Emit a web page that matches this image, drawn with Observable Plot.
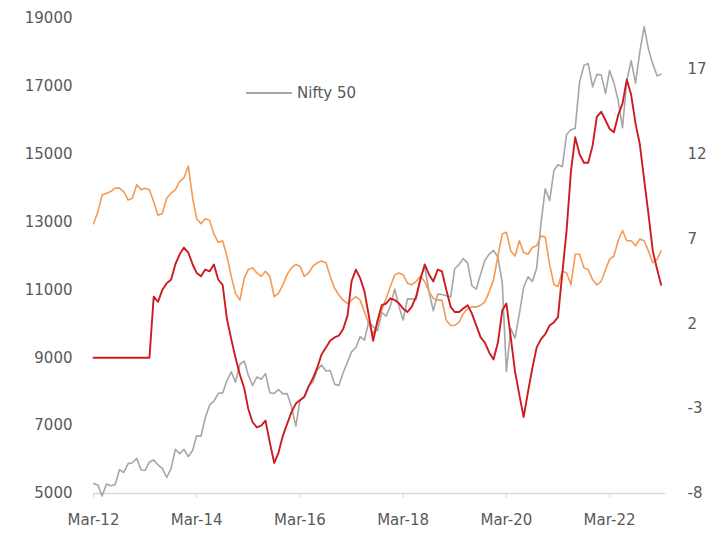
<!DOCTYPE html>
<html><head><meta charset="utf-8">
<script src="https://cdn.jsdelivr.net/npm/d3@7"></script>
<script src="https://cdn.jsdelivr.net/npm/@observablehq/plot@0.6"></script>
<style>
body{margin:0;background:#fff;font-family:"DejaVu Sans",sans-serif}
#wrap{position:relative;width:716px;height:534px}
#legend{position:absolute;left:246px;top:84px;display:flex;align-items:center;font:15px "DejaVu Sans",sans-serif;color:#595959}
#legend .sw{width:46px;height:0;border-top:2px solid #a6a6a6;margin-right:5px}
</style>
</head><body><div id="wrap"><div id="legend"><span class="sw"></span><span>Nifty 50</span></div></div>
<script>
// Monthly series, Mar-12 .. Mar-23
const firstMonth = "2012-03-01";
const nifty50 = [5296,5248,4924,5279,5229,5259,5703,5620,5880,5905,
6035,5693,5683,5930,5986,5842,5742,5472,5735,6299,6176,6304,
6090,6277,6704,6696,7230,7611,7721,7954,7965,8322,8588,8283,
8809,8902,8491,8182,8434,8369,8533,7971,7949,8066,7935,7946,
7564,6987,7738,7850,8160,8288,8639,8786,8611,8626,8224,8186,
8561,8880,9174,9304,9621,9521,10077,9918,9789,10335,10227,10531,
11028,10493,10114,10739,10736,10714,11357,11681,10930,10387,10877,10863,
10831,10793,11624,11748,11923,11789,11118,11023,11474,11877,12056,12168,
11962,11202,8598,9860,9580,10302,11073,11388,11248,11642,12969,13982,
13635,14529,14691,14631,15583,15722,15763,17132,17618,17672,16983,17354,
17340,16794,17465,17103,16585,15780,17158,17759,17094,18012,18758,18105,
17662,17304,17360];
const orangeSeries = [7.9,8.6,9.6,9.7,9.8,10.0,10.0,9.8,9.3,9.4,
10.2,9.9,10.0,9.9,9.2,8.4,8.5,9.4,9.7,9.9,
10.4,10.6,11.3,9.4,8.2,7.9,8.2,8.1,7.3,6.8,
6.9,6.0,4.8,3.8,3.4,4.7,5.2,5.3,5.0,4.8,
5.1,4.8,3.6,3.8,4.3,4.9,5.3,5.5,5.4,4.8,
5.0,5.4,5.6,5.7,5.6,4.8,4.1,3.7,3.4,3.2,
3.4,3.6,3.4,2.7,2.0,1.4,2.0,2.8,3.5,4.2,
4.9,5.0,4.9,4.4,4.3,4.5,4.8,4.5,3.9,3.5,
3.4,3.4,2.2,1.9,1.9,2.1,2.6,2.9,3.0,3.0,
3.1,3.3,3.9,4.6,6.0,7.3,7.4,6.3,6.0,6.9,
6.2,6.1,6.5,6.6,7.2,7.1,5.5,4.3,4.2,5.1,
5.0,4.3,6.1,6.1,5.3,5.2,4.6,4.3,4.5,5.2,
5.8,6.0,6.9,7.5,6.9,6.9,6.6,7.0,6.9,6.3,
5.6,5.8,6.3];
const redSeries = [0,0,0,0,0,0,0,0,0,0,0,0,0,0,
3.6,3.3,4.0,4.4,4.6,5.5,6.1,6.5,6.2,5.5,5.0,4.8,5.2,5.1,5.5,4.6,
4.3,2.3,1.1,0.0,-1.0,-1.8,-3.0,-3.8,-4.1,-4.0,
-3.7,-5.0,-6.2,-5.6,-4.6,-3.9,-3.2,-2.7,-2.5,-2.3,
-1.7,-1.2,-0.6,0.2,0.6,1.0,1.2,1.3,1.7,2.5,
4.5,5.2,4.7,3.9,2.5,1.0,2.2,3.1,3.2,3.5,
3.4,3.2,2.9,2.7,3.0,3.6,4.6,5.5,4.9,4.5,
5.2,5.1,4.0,3.0,2.7,2.7,2.9,3.1,2.6,1.9,
1.2,0.9,0.3,-0.1,0.9,2.8,3.2,1.2,-0.8,-2.2,
-3.5,-2.0,-0.6,0.6,1.1,1.4,1.9,2.1,2.4,5.0,
7.5,11.0,13.0,12.0,11.5,11.5,12.5,14.2,14.5,14.0,
13.5,13.3,14.3,15.0,16.4,15.5,13.8,12.6,10.5,8.5,
6.3,5.2,4.3];
const leftTicks = [5000,7000,9000,11000,13000,15000,17000,19000];
const rightTicks = [-8,-3,2,7,12,17];
const xTickDates = ["2012-03-01","2014-03-01","2016-03-01","2018-03-01","2020-03-01","2022-03-01"];
const leftDomain = [5000,19000];
const rightDomain = [-8,20];

const start = new Date(firstMonth);
const month = i => d3.utcMonth.offset(start, i);
const k = (leftDomain[1]-leftDomain[0])/(rightDomain[1]-rightDomain[0]);
const toLeft = v => leftDomain[0] + (v - rightDomain[0]) * k;
const fromLeft = v => Math.round(rightDomain[0] + (v - leftDomain[0]) / k);

const gray = nifty50.map((v,i)=>({d:month(i), v}));
const orange = orangeSeries.map((v,i)=>({d:month(i), v:toLeft(v)}));
const red = redSeries.map((v,i)=>({d:month(i), v:toLeft(v)}));
const fmt = d3.utcFormat("%b-%y");

const chart = Plot.plot({
  width:716, height:534,
  marginLeft:93, marginRight:51, marginTop:18, marginBottom:41,
  style:{fontFamily:"DejaVu Sans, sans-serif", fontSize:"15px", color:"#595959", background:"#fff"},
  x:{type:"utc", domain:[new Date("2012-03-01"), new Date("2023-04-01")]},
  y:{domain:leftDomain},
  marks:[
    Plot.ruleY([leftDomain[0]], {stroke:"#d9d9d9", strokeWidth:1.3}),
    Plot.axisX(xTickDates.map(s=>new Date(s)), {tickSize:5, tickPadding:16, stroke:"#d9d9d9", tickFormat:fmt, fill:"#595959", label:null}),
    Plot.axisY(leftTicks, {anchor:"left", tickSize:0, tickPadding:21, tickFormat:d=>String(d), label:null, fill:"#595959"}),
    Plot.axisY(rightTicks.map(toLeft), {anchor:"right", tickSize:0, tickPadding:22, tickFormat:d=>String(fromLeft(d)), label:null, fill:"#595959"}),
    Plot.lineY(gray, {x:"d", y:"v", stroke:"#a6a6a6", strokeWidth:1.6}),
    Plot.lineY(orange, {x:"d", y:"v", stroke:"#f59a52", strokeWidth:1.6}),
    Plot.lineY(red, {x:"d", y:"v", stroke:"#cc1c22", strokeWidth:1.9})
  ]
});
document.getElementById("wrap").prepend(chart);
</script>
</body></html>
